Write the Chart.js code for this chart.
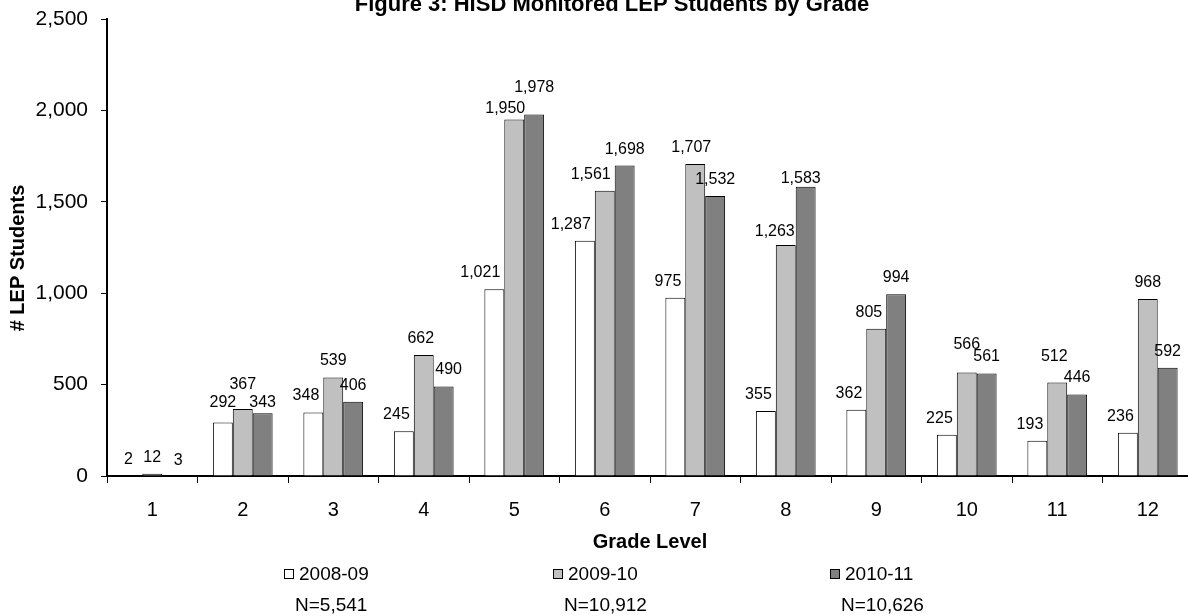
<!DOCTYPE html>
<html>
<head>
<meta charset="utf-8">
<script src="https://cdn.jsdelivr.net/npm/chart.js@4.4.1/dist/chart.umd.min.js"></script>
<style>
  html, body { margin: 0; padding: 0; background: #fff; overflow: hidden; width: 1188px; height: 616px; }
  #wrap { position: absolute; left: 0; top: 0; width: 1220px; height: 616px; }
  canvas { display: block; }
</style>
</head>
<body>
<div id="wrap"><canvas id="lep" width="1220" height="616"></canvas></div>
<script>
// Monitored LEP students by grade, three school years
const grades = ['1', '2', '3', '4', '5', '6', '7', '8', '9', '10', '11', '12'];
const year0809 = [2, 292, 348, 245, 1021, 1287, 975, 355, 362, 225, 193, 236];
const year0910 = [12, 367, 539, 662, 1950, 1561, 1707, 1263, 805, 566, 512, 968];
const year1011 = [3, 343, 406, 490, 1978, 1698, 1532, 1583, 994, 561, 446, 592];
const yearNames = ['2008-09', '2009-10', '2010-11'];
const yTickValues = [0, 500, 1000, 1500, 2000, 2500];

const titleText = 'Figure 3: HISD Monitored LEP Students by Grade';
const xTitle = 'Grade Level';
const yTitle = '# LEP Students';

const FONT = "'Liberation Sans', Arial, Helvetica, sans-serif";
const fmt = v => v.toLocaleString('en-US');
const total = arr => arr.reduce((a, b) => a + b, 0);

const fills = ['#FFFFFF', '#C0C0C0', '#808080'];
const allSeries = [year0809, year0910, year1011];

// Hand-placed value labels: [series, grade index] -> pixel nudge [dx, dy]
const labelNudge = {
  '0,0': [-4, 0],
  '2,0': [6, 2],
  '0,1': [0, -4],
  '1,1': [0, -8],
  '2,1': [0, 6],
  '1,3': [-3, 0],
  '2,3': [5, 0],
  '1,4': [-9, 5],
  '2,4': [0, -10],
  '1,6': [-4, 0],
  '1,7': [-11, 3],
  '2,7': [-5, 8],
  '1,9': [0, -12],
  '1,10': [-3, -9]
};

// Value labels above each bar; a label is pulled left against its bar's
// right edge when the next bar in the group rises into it.
const valueLabels = {
  id: 'valueLabels',
  afterDatasetsDraw(chart) {
    const ctx = chart.ctx;
    ctx.save();
    ctx.font = '16px ' + FONT;
    ctx.fillStyle = '#000';
    ctx.textBaseline = 'alphabetic';
    ctx.textAlign = 'center';
    const metas = chart.data.datasets.map((d, i) => chart.getDatasetMeta(i));
    metas.forEach((meta, i) => {
      meta.data.forEach((bar, j) => {
        const txt = fmt(chart.data.datasets[i].data[j]);
        let base = bar.y - 12;
        const w = ctx.measureText(txt).width;
        let x = bar.x;
        const nudge = labelNudge[i + ',' + j];
        if (nudge) {
          x += nudge[0];
          base += nudge[1];
        } else {
          const next = metas[i + 1] ? metas[i + 1].data[j] : null;
          if (next && next.y < base - 4) {
            x = bar.x + bar.width / 2 - 4 - w / 2;
          }
        }
        ctx.fillText(txt, x, base);
      });
    });
    ctx.restore();
  }
};

// Title, axis titles and the legend with yearly totals
const chartText = {
  id: 'chartText',
  afterDraw(chart) {
    const ctx = chart.ctx;
    const area = chart.chartArea;
    ctx.save();
    ctx.fillStyle = '#000';

    ctx.font = 'bold 22px ' + FONT;
    ctx.textAlign = 'center';
    ctx.textBaseline = 'alphabetic';
    ctx.fillText(titleText, 612, 11);

    ctx.font = 'bold 20px ' + FONT;
    ctx.fillText(xTitle, (area.left + area.right) / 2, 548);

    ctx.save();
    ctx.translate(24, 258);
    ctx.rotate(-Math.PI / 2);
    ctx.font = 'bold 20px ' + FONT;
    ctx.textAlign = 'center';
    ctx.fillText(yTitle, 0, 0);
    ctx.restore();

    const legendX = [284, 553, 830];
    ctx.font = '19px ' + FONT;
    ctx.textAlign = 'left';
    yearNames.forEach((name, i) => {
      const bx = legendX[i];
      ctx.fillStyle = fills[i];
      ctx.fillRect(bx, 569, 9, 9);
      ctx.strokeStyle = '#000';
      ctx.lineWidth = 1;
      ctx.strokeRect(bx + 0.5, 569.5, 9, 9);
      ctx.fillStyle = '#000';
      ctx.textBaseline = 'middle';
      ctx.fillText(name, bx + 15, 575);
      ctx.textBaseline = 'alphabetic';
      ctx.fillText('N=' + fmt(total(allSeries[i])), bx + 11, 611);
    });
    ctx.restore();
  }
};

new Chart(document.getElementById('lep'), {
  type: 'bar',
  data: {
    labels: grades,
    datasets: yearNames.map((name, i) => ({
      label: name,
      data: allSeries[i],
      backgroundColor: fills[i],
      borderColor: '#000',
      borderWidth: 1,
      categoryPercentage: 0.66,
      barPercentage: 1.0
    }))
  },
  options: {
    responsive: false,
    animation: false,
    devicePixelRatio: 1,
    layout: { padding: { left: 0, right: 27, top: 19, bottom: 0 } },
    plugins: {
      legend: { display: false },
      title: { display: false },
      tooltip: { enabled: false }
    },
    scales: {
      x: {
        grid: { display: true, drawOnChartArea: false, drawTicks: true, tickLength: 7, color: '#000', lineWidth: 1, offset: true },
        border: { display: true, color: '#000', width: 2 },
        ticks: { color: '#000', font: { family: FONT, size: 20 }, padding: 15, maxRotation: 0 },
        afterFit(scale) {
          scale.height = 140;
          scale.paddingLeft = 0;
          scale.paddingRight = 0;
        }
      },
      y: {
        min: 0,
        max: 2500,
        grid: { display: true, drawOnChartArea: false, drawTicks: true, tickLength: 6, color: '#000', lineWidth: 1 },
        border: { display: true, color: '#000', width: 2 },
        afterBuildTicks(scale) { scale.ticks = yTickValues.map(v => ({ value: v })); },
        ticks: {
          color: '#000',
          font: { family: FONT, size: 21 },
          padding: 13,
          callback: v => fmt(v)
        },
        afterFit(scale) {
          scale.width = 107;
          scale.paddingTop = 0;
          scale.paddingBottom = 0;
        }
      }
    }
  },
  plugins: [valueLabels, chartText]
});
</script>
</body>
</html>
